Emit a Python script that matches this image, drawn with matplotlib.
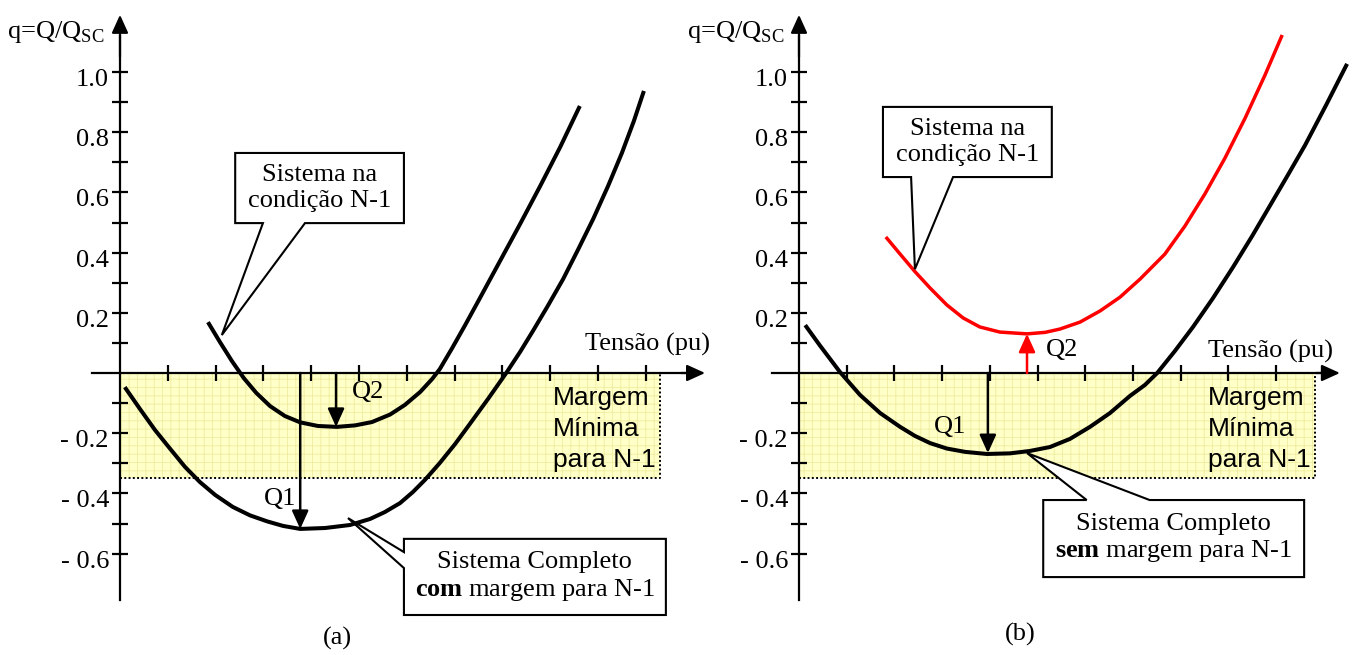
import matplotlib
matplotlib.use("Agg")
import matplotlib.pyplot as plt
from matplotlib.patches import Rectangle, Polygon
from matplotlib.transforms import ScaledTranslation

plt.rcParams['font.family'] = 'Liberation Serif'
plt.rcParams['mathtext.fontset'] = 'custom'
plt.rcParams['mathtext.rm'] = 'Liberation Serif'
plt.rcParams['mathtext.bf'] = 'Liberation Serif:bold'
plt.rcParams['hatch.linewidth'] = 0.6

# values: x in tick units of "Tensão", y is q = Q/Qsc
a_n1_x = [1.84, 2.09, 2.34, 2.59, 2.85, 3.14, 3.45, 3.77, 4.14, 4.54, 4.92, 5.27, 5.65, 5.96,
          6.28, 6.53, 6.69, 6.95, 7.22, 7.53, 7.95, 8.37, 8.79, 9.21, 9.62]
a_n1_q = [0.169, 0.103, 0.040, -0.017, -0.066, -0.110, -0.143, -0.164, -0.176, -0.179, -0.174,
          -0.163, -0.138, -0.106, -0.063, -0.020, 0.013, 0.083, 0.159, 0.249, 0.372, 0.495,
          0.621, 0.751, 0.887]
a_full_x = [0.10, 0.42, 0.73, 1.05, 1.36, 1.67, 1.99, 2.36, 2.72, 3.08, 3.41, 3.77, 4.29, 4.81,
            5.23, 5.54, 5.86, 6.13, 6.38, 6.69, 7.01, 7.32, 7.70, 8.08, 8.37, 8.64, 8.95, 9.27,
            9.58, 9.90, 10.21, 10.50, 10.75, 10.96]
a_full_q = [-0.047, -0.120, -0.189, -0.252, -0.312, -0.362, -0.405, -0.445, -0.473, -0.493,
            -0.508, -0.518, -0.515, -0.505, -0.485, -0.462, -0.432, -0.395, -0.355, -0.299,
            -0.236, -0.169, -0.086, 0.0, 0.070, 0.140, 0.223, 0.312, 0.409, 0.512, 0.621,
            0.731, 0.837, 0.937]

b_full_x = [0.13, 0.44, 0.86, 1.28, 1.70, 2.12, 2.43, 2.75, 3.10, 3.48, 3.94, 4.42, 4.84, 5.26,
            5.68, 6.10, 6.52, 6.94, 7.25, 7.51, 7.88, 8.26, 8.68, 9.10, 9.50, 9.87, 10.25,
            10.61, 11.05, 11.49]
b_full_q = [0.159, 0.091, 0.003, -0.073, -0.133, -0.179, -0.209, -0.233, -0.251, -0.262, -0.269,
            -0.267, -0.259, -0.246, -0.219, -0.179, -0.133, -0.076, -0.040, 0.0, 0.073, 0.153,
            0.249, 0.352, 0.455, 0.555, 0.658, 0.757, 0.890, 1.027]
b_n1_x = [1.82, 2.12, 2.43, 2.75, 3.10, 3.44, 3.79, 4.21, 4.78, 5.16, 5.47, 5.89, 6.31, 6.73,
          7.15, 7.67, 8.09, 8.51, 8.93, 9.35, 9.77, 10.13]
b_n1_q = [0.452, 0.395, 0.337, 0.282, 0.226, 0.183, 0.153, 0.136, 0.130, 0.135, 0.146, 0.169,
          0.206, 0.252, 0.312, 0.395, 0.488, 0.595, 0.714, 0.846, 0.990, 1.123]

# Q1 / Q2 arrows: (x position, curve minimum)
a_q1 = (3.77, -0.518)
a_q2 = (4.52, -0.179)
b_q1 = (3.96, -0.266)
b_q2 = (4.78, 0.130)

margem = -0.35          # minimum margin band
a_band_end = 11.3
b_band_end = 10.82

ytick_vals = [-0.6, -0.4, -0.2, 0.2, 0.4, 0.6, 0.8, 1.0]
ytick_labels = ['- 0.6', '- 0.4', '- 0.2', '0.2', '0.4', '0.6', '0.8', '1.0']
yminor_vals = [-0.5, -0.3, -0.1, 0.1, 0.3, 0.5, 0.7, 0.9]
margem_lines = ['Margem', 'Mínima', 'para N-1']

W, H = 1356, 655
fig = plt.figure(figsize=(W / 100, H / 100), dpi=100)

FS = 19
ARROW = dict(arrowstyle='-|>,head_length=0.55,head_width=0.25', mutation_scale=20,
             lw=1.6, color='k', shrinkA=0, shrinkB=0)


def place(ox, oy, sx, sy, xlim, ylim):
    # axes whose data units sit at the pixel origin / scale of the drawing
    left = (ox + sx * xlim[0]) / W
    right = (ox + sx * xlim[1]) / W
    bottom = (H - (oy - sy * ylim[0])) / H
    top = (H - (oy - sy * ylim[1])) / H
    ax = fig.add_axes([left, bottom, right - left, top - bottom])
    ax.set_xlim(*xlim)
    ax.set_ylim(*ylim)
    ax.patch.set_alpha(0)
    return ax


def setup_axes(ax, n_xticks, x_start, x_tip):
    for s in ['top', 'right']:
        ax.spines[s].set_visible(False)
    ax.spines['left'].set_position(('data', 0))
    ax.spines['bottom'].set_position(('data', 0))
    ax.spines['left'].set_bounds(-0.754, 1.12)
    ax.spines['bottom'].set_bounds(x_start, x_tip - 0.2)
    for s in ['left', 'bottom']:
        ax.spines[s].set_linewidth(1.6)
        ax.spines[s].set_zorder(4)
    ax.set_xticks(range(1, n_xticks + 1))
    ax.set_xticklabels([])
    ax.set_yticks(ytick_vals)
    ax.set_yticklabels(ytick_labels, fontsize=FS)
    ax.set_yticks(yminor_vals, minor=True)
    ax.tick_params(which='both', direction='inout', length=12, width=1.6, pad=2)
    for lab in ax.get_yticklabels():
        lab.set_transform(lab.get_transform() + ScaledTranslation(0, -4 / 72, fig.dpi_scale_trans))
    ax.annotate('', xy=(0, 1.19), xytext=(0, 1.05), arrowprops=ARROW, annotation_clip=False, zorder=4)
    ax.annotate('', xy=(x_tip, 0), xytext=(x_tip - 0.5, 0), arrowprops=ARROW, annotation_clip=False, zorder=4)


def band(ax, x_end, x_text):
    ax.add_patch(Rectangle((0, margem), x_end, -margem, facecolor='#ffffc8',
                           edgecolor='#f0eca0', lw=0, hatch='++', zorder=1))
    ax.plot([0, x_end, x_end], [margem, margem, 0], color='k', lw=1.4, ls=(0, (1, 1.2)), zorder=2)
    for i, line in enumerate(margem_lines):
        ax.text(x_text, -0.106 - 0.103 * i, line, family='Liberation Sans', fontsize=FS,
                ha='left', va='baseline', zorder=3)


def callout(ax, pts, text, cx, cy):
    ax.add_patch(Polygon(pts, closed=True, facecolor='white', edgecolor='k', lw=1.5, zorder=6))
    ax.text(cx, cy, text, ha='center', va='center', fontsize=FS, linespacing=1.2, zorder=7)


def q_arrow(ax, xq, qmin, color='k'):
    props = dict(ARROW, color=color, lw=1.8)
    ax.annotate('', xy=(xq, qmin), xytext=(xq, 0), arrowprops=props, zorder=5)


def curve(ax, x, q, color='k', lw=2.9):
    ax.plot(x, q, color=color, lw=lw, zorder=3, solid_joinstyle='round', solid_capstyle='butt')


# ---------------- panel (a) ----------------
ax1 = place(120, 373, 47.8, 301, (-1.2, 12.6), (-0.92, 1.2))
setup_axes(ax1, 11, -0.59, 12.24)
band(ax1, a_band_end, 9.06)
curve(ax1, a_n1_x, a_n1_q)
curve(ax1, a_full_x, a_full_q)
q_arrow(ax1, *a_q1)
q_arrow(ax1, *a_q2)
ax1.text(3.35, -0.42, 'Q1', fontsize=FS, ha='center', va='center', zorder=5)
ax1.text(5.19, -0.063, 'Q2', fontsize=FS, ha='center', va='center', zorder=5)
ax1.text(12.35, 0.075, 'Tensão (pu)', fontsize=FS, ha='right', va='baseline')
callout(ax1, [(2.41, 0.731), (5.94, 0.731), (5.94, 0.498), (3.87, 0.498), (2.13, 0.126),
              (2.99, 0.498), (2.41, 0.498)],
        'Sistema na\ncondição N-1', 4.175, 0.6145)
callout(ax1, [(5.94, -0.551), (11.42, -0.551), (11.42, -0.804), (5.94, -0.804),
              (5.94, -0.648), (4.77, -0.482), (5.94, -0.595)],
        'Sistema Completo\n$\\mathbf{com}$ margem para N-1', 8.68, -0.6775)

# ---------------- panel (b) ----------------
ax2 = place(799, 373, 47.7, 301, (-1.2, 11.8), (-0.92, 1.2))
setup_axes(ax2, 10, -0.57, 11.34)
band(ax2, b_band_end, 8.57)
curve(ax2, b_n1_x, b_n1_q, color='#ff0000', lw=2.5)
curve(ax2, b_full_x, b_full_q)
q_arrow(ax2, *b_q1)
q_arrow(ax2, *b_q2, color='#ff0000')
ax2.text(3.17, -0.179, 'Q1', fontsize=FS, ha='center', va='center', zorder=5)
ax2.text(5.51, 0.076, 'Q2', fontsize=FS, ha='center', va='center', zorder=5)
ax2.text(11.2, 0.05, 'Tensão (pu)', fontsize=FS, ha='right', va='baseline')
callout(ax2, [(1.76, 0.884), (5.30, 0.884), (5.30, 0.651), (3.23, 0.651), (2.43, 0.345),
              (2.35, 0.651), (1.76, 0.651)],
        'Sistema na\ncondição N-1', 3.53, 0.7675)
callout(ax2, [(5.12, -0.422), (6.03, -0.422), (4.78, -0.266), (7.35, -0.422), (10.59, -0.422),
              (10.59, -0.678), (5.12, -0.678)],
        'Sistema Completo\n$\\mathbf{sem}$ margem para N-1', 7.855, -0.55)

# axis names and panel letters
fig.text(7 / W, 1 - 38 / H, 'q=Q/Q$_{\\mathrm{SC}}$', fontsize=FS, ha='left', va='baseline')
fig.text(687 / W, 1 - 38 / H, 'q=Q/Q$_{\\mathrm{SC}}$', fontsize=FS, ha='left', va='baseline')
fig.text(337 / W, 1 - 638 / H, '(a)', fontsize=FS, ha='center', va='center')
fig.text(1020 / W, 1 - 634 / H, '(b)', fontsize=FS, ha='center', va='center')

fig.savefig('out.png', dpi=100)
